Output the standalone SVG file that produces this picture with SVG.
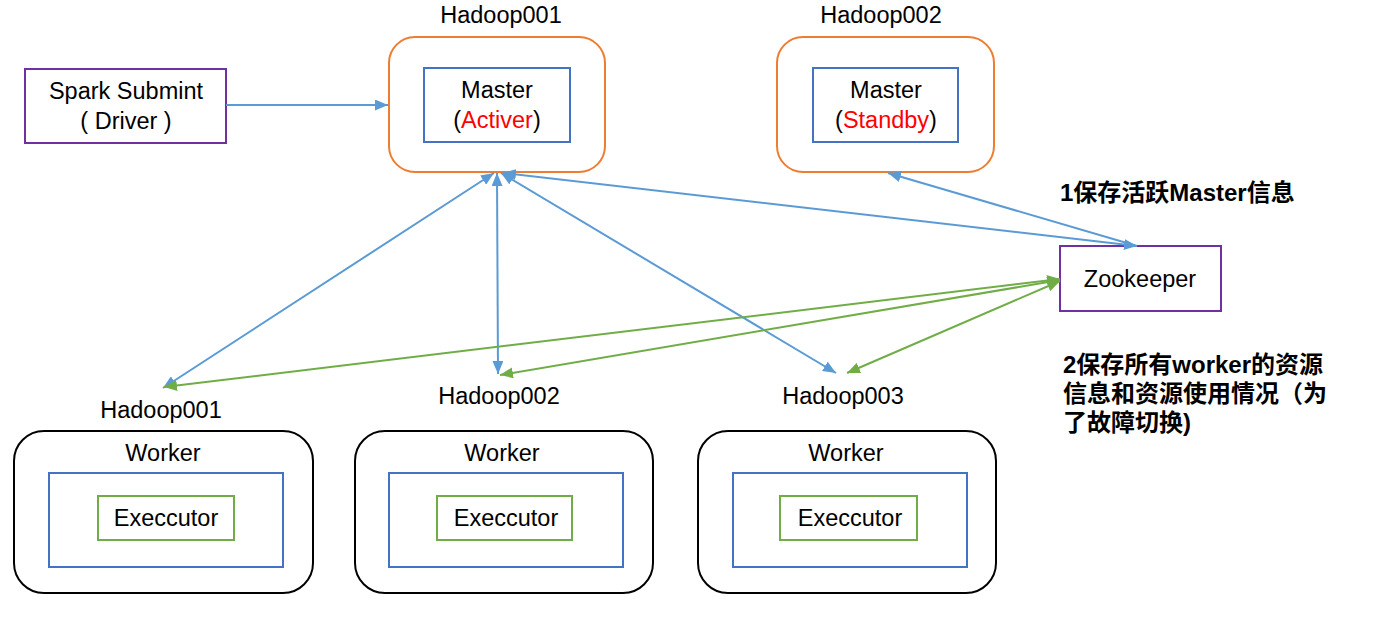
<svg xmlns="http://www.w3.org/2000/svg" width="1384" height="619" viewBox="0 0 1384 619">
<defs>
<marker id="ab" viewBox="0 0 13 11" refX="13" refY="5.5" markerWidth="13" markerHeight="11" markerUnits="userSpaceOnUse" orient="auto-start-reverse"><path d="M0,0 L13,5.5 L0,11 z" fill="#5B9BD5"/></marker>
<marker id="ag" viewBox="0 0 13 11" refX="13" refY="5.5" markerWidth="13" markerHeight="11" markerUnits="userSpaceOnUse" orient="auto-start-reverse"><path d="M0,0 L13,5.5 L0,11 z" fill="#70AD47"/></marker>
</defs>
<style>
text{font-family:"Liberation Sans","Noto Sans CJK SC",Arial,sans-serif;font-size:23.5px;fill:#000;text-anchor:middle}
.note{font-weight:bold;text-anchor:start;font-size:24px}
.red{fill:#FF0000}
.host{fill:#fff;stroke:#ED7D31;stroke-width:2}
.inner{fill:#fff;stroke:#4472C4;stroke-width:2}
.worker{fill:#fff;stroke:#000;stroke-width:2}
.exec{fill:#fff;stroke:#70AD47;stroke-width:2}
.purple{fill:#fff;stroke:#7030A0;stroke-width:2}
.cb{stroke:#5B9BD5;stroke-width:2;fill:none}
.cg{stroke:#70AD47;stroke-width:2;fill:none}
</style>
<rect width="1384" height="619" fill="#fff"/>
<g id="spark">
<rect class="purple" x="25" y="69" width="201" height="74"/>
<text x="126" y="99">Spark Submint</text>
<text x="126" y="129">( Driver )</text>
</g>
<g id="master1">
<text x="501" y="23">Hadoop001</text>
<rect class="host" x="389" y="37" width="216" height="135" rx="26"/>
<rect class="inner" x="424" y="68" width="146" height="74"/>
<text x="497" y="98">Master</text>
<text x="497" y="128">(<tspan class="red">Activer</tspan>)</text>
</g>
<g id="master2">
<text x="881" y="23">Hadoop002</text>
<rect class="host" x="777" y="37" width="217" height="135" rx="26"/>
<rect class="inner" x="813" y="68" width="145" height="74"/>
<text x="886" y="98">Master</text>
<text x="886" y="128">(<tspan class="red">Standby</tspan>)</text>
</g>
<g id="zookeeper">
<rect class="purple" x="1060" y="246" width="161" height="65"/>
<text x="1140" y="287">Zookeeper</text>
</g>
<g id="note1">
<text class="note" x="1060" y="201">1保存活跃Master信息</text>
</g>
<g id="note2">
<text class="note" x="1063" y="373">2保存所有worker的资源</text>
<text class="note" x="1063" y="402">信息和资源使用情况（为</text>
<text class="note" x="1063" y="431">了故障切换)</text>
</g>
<g id="worker1">
<text x="161" y="418">Hadoop001</text>
<rect class="worker" x="14" y="431" width="299" height="162" rx="30"/>
<text x="163" y="461">Worker</text>
<rect class="inner" x="49" y="473" width="234" height="94"/>
<rect class="exec" x="98" y="496" width="136" height="44"/>
<text x="166" y="526">Execcutor</text>
</g>
<g id="worker2">
<text x="499" y="404">Hadoop002</text>
<rect class="worker" x="355" y="431" width="298" height="162" rx="30"/>
<text x="502" y="461">Worker</text>
<rect class="inner" x="389" y="473" width="234" height="94"/>
<rect class="exec" x="437" y="496" width="135" height="44"/>
<text x="506" y="526">Execcutor</text>
</g>
<g id="worker3">
<text x="843" y="404">Hadoop003</text>
<rect class="worker" x="698" y="431" width="298" height="162" rx="30"/>
<text x="846" y="461">Worker</text>
<rect class="inner" x="733" y="473" width="234" height="94"/>
<rect class="exec" x="780" y="496" width="137" height="44"/>
<text x="850" y="526">Execcutor</text>
</g>
<g id="connectors">
<line class="cb" x1="226" y1="105" x2="388" y2="105" marker-end="url(#ab)"/>
<line class="cb" x1="494" y1="173" x2="163" y2="388" marker-start="url(#ab)" marker-end="url(#ab)"/>
<line class="cb" x1="497" y1="173" x2="498" y2="374" marker-start="url(#ab)" marker-end="url(#ab)"/>
<line class="cb" x1="501" y1="173" x2="836" y2="373" marker-start="url(#ab)" marker-end="url(#ab)"/>
<line class="cb" x1="503" y1="173" x2="1137" y2="246" marker-start="url(#ab)" marker-end="url(#ab)"/>
<line class="cb" x1="1137" y1="246" x2="888" y2="173" marker-end="url(#ab)"/>
<line class="cg" x1="1060" y1="279" x2="164" y2="387" marker-start="url(#ag)" marker-end="url(#ag)"/>
<line class="cg" x1="1060" y1="280" x2="500" y2="375" marker-start="url(#ag)" marker-end="url(#ag)"/>
<line class="cg" x1="1060" y1="281" x2="847" y2="373" marker-start="url(#ag)" marker-end="url(#ag)"/>
</g>
</svg>
